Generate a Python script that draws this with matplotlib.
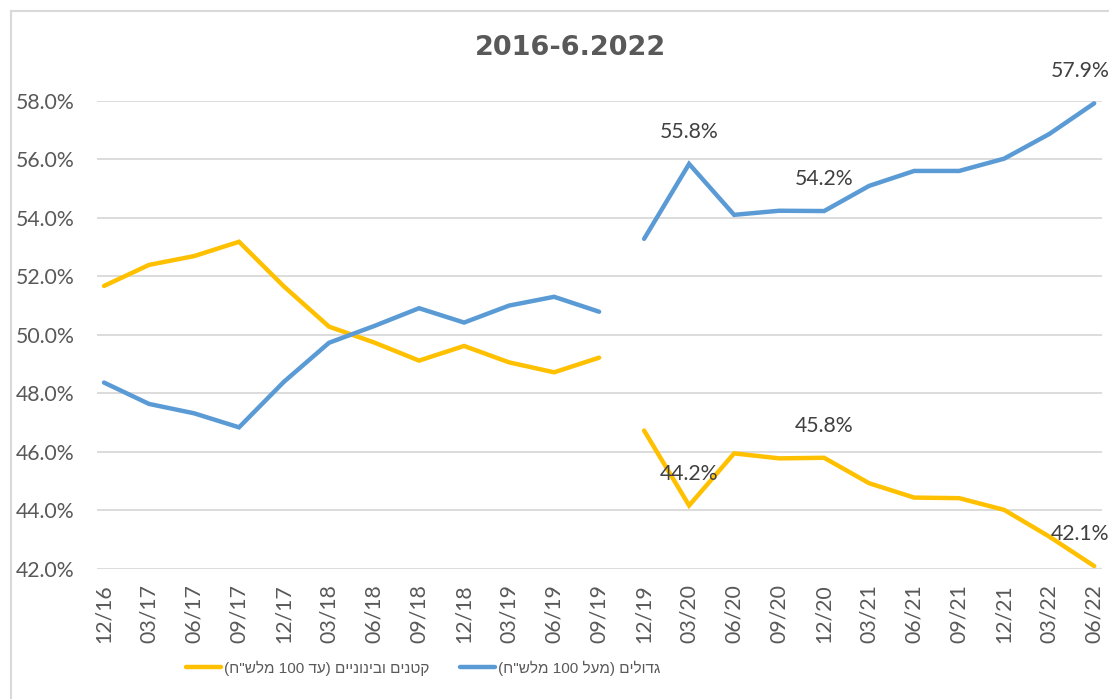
import matplotlib
matplotlib.use("Agg")
import matplotlib.pyplot as plt
from matplotlib.lines import Line2D
import numpy as np

# ---------------- data ----------------
categories = ["12/16", "03/17", "06/17", "09/17", "12/17", "03/18", "06/18",
              "09/18", "12/18", "03/19", "06/19", "09/19",
              "12/19", "03/20", "06/20", "09/20", "12/20", "03/21", "06/21",
              "09/21", "12/21", "03/22", "06/22"]

# period 1: 12/16 - 09/19
small_p1 = [51.67, 52.39, 52.69, 53.18, 51.65, 50.28, 49.74, 49.12, 49.62, 49.06, 48.72, 49.22]
large_p1 = [48.37, 47.64, 47.32, 46.84, 48.40, 49.73, 50.30, 50.91, 50.42, 51.00, 51.30, 50.79]
# period 2: 12/19 - 06/22
small_p2 = [46.73, 44.17, 45.95, 45.78, 45.80, 44.93, 44.44, 44.42, 44.02, 43.11, 42.10]
large_p2 = [53.28, 55.84, 54.10, 54.24, 54.23, 55.09, 55.60, 55.60, 56.02, 56.86, 57.91]

title = "2016-6.2022"
label_small = 'קטנים ובינוניים (עד 100 מלש"ח)'
label_large = 'גדולים (מעל 100 מלש"ח)'
labelled_categories = ["03/20", "12/20", "06/22"]

color_small = "#FFC000"
color_large = "#5B9BD5"
text_color = "#595959"
label_color = "#404040"


def visual_rtl(s):
    """Convert a logical-order Hebrew string into visual (left-to-right) order."""
    mirror = {"(": ")", ")": "("}
    rev = s[::-1]
    out, i = [], 0
    while i < len(rev):
        c = rev[i]
        if c.isdigit():
            j = i
            while j < len(rev) and rev[j].isdigit():
                j += 1
            out.append(rev[i:j][::-1])
            i = j
        else:
            out.append(mirror.get(c, c))
            i += 1
    return "".join(out)


# ---------------- figure ----------------
W, H = 1109, 699
fig = plt.figure(figsize=(W / 100, H / 100), dpi=100)
fig.patch.set_facecolor("white")

ax_l, ax_r = 96.5, 1101.7
ax_t, ax_b = 100.7, 569.0
ax = fig.add_axes([ax_l / W, 1 - ax_b / H, (ax_r - ax_l) / W, (ax_b - ax_t) / H])

n = len(categories)
x = np.arange(n)
n1 = len(small_p1)
x1 = x[:n1]
x2 = x[n1:]

lw = 3.2
kw = dict(lw=lw, solid_capstyle="round", solid_joinstyle="miter", clip_on=False, zorder=3)
ax.plot(x1, small_p1, color=color_small, **kw)
ax.plot(x2, small_p2, color=color_small, **kw)
ax.plot(x1, large_p1, color=color_large, **kw)
ax.plot(x2, large_p2, color=color_large, **kw)

ax.set_xlim(-0.167, n - 1 + 0.167)
ax.set_ylim(42, 58)
ax.set_yticks(np.arange(42, 58.1, 2))
ax.set_yticklabels([f"{v:.1f}%" for v in np.arange(42, 58.1, 2)])
ax.set_xticks(x)
ax.set_xticklabels(categories, rotation=90)

font_main = ["Lato", "DejaVu Sans"]
fs = 15.3
for lab in ax.get_yticklabels() + ax.get_xticklabels():
    lab.set_fontfamily(font_main)
    lab.set_fontsize(fs)
    lab.set_color(text_color)
ax.tick_params(axis="y", length=0, pad=16)
ax.tick_params(axis="x", length=0, pad=11)

ax.grid(axis="y", color="#D9D9D9", lw=1.3, zorder=0)
ax.set_axisbelow(True)
for sp in ax.spines.values():
    sp.set_visible(False)

# data labels
for cat in labelled_categories:
    i = categories.index(cat)
    dx = -10 if i == n - 1 else 0
    for arr in (large_p2, small_p2):
        v = arr[i - n1]
        ax.annotate(f"{v:.1f}%", (i, v), xytext=(dx, 23), textcoords="offset points",
                    ha="center", va="center", fontsize=fs, color=label_color,
                    family=font_main, annotation_clip=False, zorder=4)

# title
fig.text(570 / W, 1 - 48 / H, title, ha="center", va="center", fontsize=19.5,
         fontweight="bold", color=text_color, family=["DejaVu Sans"])

# legend
heb_font = ["Liberation Sans", "DejaVu Sans"]
handles = [Line2D([], [], color=color_small, lw=lw, solid_capstyle="round"),
           Line2D([], [], color=color_large, lw=lw, solid_capstyle="round")]
leg = fig.legend(handles, [visual_rtl(label_small), visual_rtl(label_large)],
                 loc="center", bbox_to_anchor=(423 / W, 1 - 668 / H), ncol=2,
                 frameon=False, handlelength=2.3, handletextpad=0.2,
                 columnspacing=2.0, prop={"family": heb_font, "size": 11})
for t in leg.get_texts():
    t.set_color(text_color)

# chart border (top and left visible)
fig.add_artist(Line2D([10.5 / W, 10.5 / W], [0, 1 - 11 / H], color="#D9D9D9", lw=1.5))
fig.add_artist(Line2D([10.5 / W, 1], [1 - 11 / H, 1 - 11 / H], color="#D9D9D9", lw=1.5))

fig.savefig("out.png", dpi=100, facecolor="white")
